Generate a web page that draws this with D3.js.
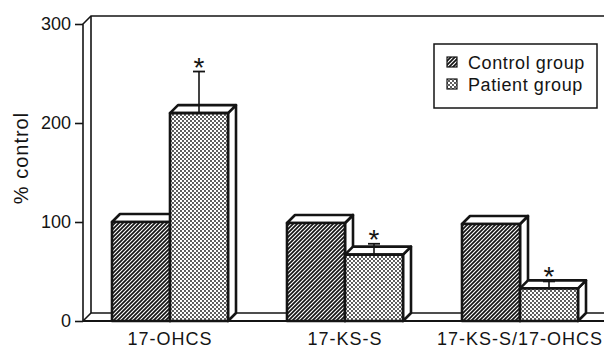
<!DOCTYPE html>
<html>
<head>
<meta charset="utf-8">
<script src="https://cdn.jsdelivr.net/npm/d3@7"></script>
<style>
  body { margin: 0; background: #fff; }
  svg { display: block; }
  text { font-family: "Liberation Sans", Arial, Helvetica, sans-serif; fill: #141414; }
</style>
</head>
<body>
<svg id="chart" width="604" height="351"></svg>
<script>
// Urinary steroid excretion, expressed as % of control
const categories = ["17-OHCS", "17-KS-S", "17-KS-S/17-OHCS"];
const seriesNames = ["Control group", "Patient group"];
const controlValues = [100, 99, 98];
const patientValues = [210, 67, 33];
const patientErrors = [42, 11, 7];
const significant = [true, true, true];
const yTicks = [0, 100, 200, 300];

const svg = d3.select("#chart");
const ink = "#141414";
const depth = 8;          // oblique offset of the 3-D faces
const axisX = 83;

const y = d3.scaleLinear().domain([0, 300]).range([321, 24]);
const x0 = d3.scalePoint().domain(categories).range([170, 520]);
const x1 = d3.scaleBand().domain(seriesNames).range([-58, 58]).padding(0);

// fill patterns: diagonal hatch for controls, stipple for patients
const defs = svg.append("defs");
const hatch = defs.append("pattern").attr("id", "hatch")
  .attr("patternUnits", "userSpaceOnUse").attr("width", 4).attr("height", 4);
hatch.append("rect").attr("width", 4).attr("height", 4).attr("fill", "#fff");
hatch.append("path").attr("d", "M-1,1 l2,-2 M0,4 l4,-4 M3,5 l2,-2")
  .attr("stroke", ink).attr("stroke-width", 1.7);

const dots = defs.append("pattern").attr("id", "dots")
  .attr("patternUnits", "userSpaceOnUse").attr("width", 4).attr("height", 4);
dots.append("rect").attr("width", 4).attr("height", 4).attr("fill", "#fff");
dots.append("circle").attr("cx", 1).attr("cy", 1).attr("r", 0.9).attr("fill", "#111");
dots.append("circle").attr("cx", 3).attr("cy", 3).attr("r", 0.9).attr("fill", "#111");

const fills = { "Control group": "url(#hatch)", "Patient group": "url(#dots)" };

// 3-D frame: side wall, back wall top and floor
const yTop = y(300), yZero = y(0);
const frame = svg.append("g").attr("fill", "none").attr("stroke", ink).attr("stroke-width", 1.6);
frame.append("path").attr("d",
  `M${axisX},${yZero} L${axisX},${yTop} L${axisX + depth},${yTop - depth} L604,${yTop - depth}`);
frame.append("path").attr("d",
  `M${axisX + depth},${yTop - depth} L${axisX + depth},${yZero - depth} L604,${yZero - depth}`);
frame.append("path").attr("d",
  `M${axisX},${yZero} L${axisX + depth},${yZero - depth}`);
frame.append("path").attr("d", `M${axisX},${yZero} L604,${yZero}`).attr("stroke-width", 2);

// y axis ticks and labels
const axis = svg.append("g").attr("transform", `translate(${axisX},0)`)
  .call(d3.axisLeft(y).tickValues(yTicks).tickSize(8).tickPadding(4).tickFormat(d3.format("d")));
axis.select(".domain").remove();
axis.selectAll(".tick line").attr("stroke", ink).attr("stroke-width", 1.6);
axis.selectAll(".tick text").attr("font-size", 18).attr("fill", ink)
  .style("font-family", '"Liberation Sans", Arial, sans-serif');

svg.append("text")
  .attr("transform", "translate(28,158) rotate(-90)")
  .attr("text-anchor", "middle").attr("font-size", 20).attr("letter-spacing", 1)
  .text("% control");

// bars
const rows = categories.map((c, i) => ({
  cat: c,
  bars: [
    { s: "Control group", v: controlValues[i] },
    { s: "Patient group", v: patientValues[i], e: patientErrors[i], sig: significant[i] }
  ]
}));

const groups = svg.selectAll("g.grp").data(rows).join("g").attr("class", "grp")
  .attr("transform", d => `translate(${x0(d.cat)},0)`);

groups.each(function (row) {
  const g = d3.select(this);
  row.bars.forEach(b => {
    const bx = x1(b.s), w = x1.bandwidth(), yt = y(b.v);
    const face = g.append("g").attr("stroke", ink).attr("stroke-width", 2.6)
      .attr("stroke-linejoin", "round");
    face.append("path").attr("fill", "#fff").attr("d",
      `M${bx + w},${yt} L${bx + w + depth},${yt - depth} L${bx + w + depth},${yZero - depth} L${bx + w},${yZero} Z`);
    face.append("path").attr("fill", "#fff").attr("d",
      `M${bx},${yt} L${bx + depth},${yt - depth} L${bx + w + depth},${yt - depth} L${bx + w},${yt} Z`);
    face.append("rect").attr("x", bx).attr("y", yt).attr("width", w).attr("height", yZero - yt)
      .attr("fill", fills[b.s]);

    if (b.e != null) {
      const cx = bx + w / 2, ye = y(b.v + b.e);
      g.append("line").attr("x1", cx).attr("x2", cx).attr("y1", yt).attr("y2", ye)
        .attr("stroke", ink).attr("stroke-width", 1.6);
      g.append("line").attr("x1", cx - 6).attr("x2", cx + 6).attr("y1", ye).attr("y2", ye)
        .attr("stroke", ink).attr("stroke-width", 1.8);
      if (b.sig) {
        g.append("text").attr("x", cx).attr("y", ye + 5).attr("text-anchor", "middle")
          .attr("font-size", 28).text("*");
      }
    }
  });
});

// category labels
svg.selectAll("text.cat").data(categories).join("text").attr("class", "cat")
  .attr("x", d => x0(d)).attr("y", 345).attr("text-anchor", "middle")
  .attr("font-size", 18).attr("letter-spacing", 1).text(d => d);

// legend
const legend = svg.append("g");
legend.append("rect").attr("x", 434).attr("y", 44).attr("width", 163).attr("height", 64)
  .attr("fill", "#fff").attr("stroke", ink).attr("stroke-width", 1.5);
seriesNames.forEach((s, i) => {
  legend.append("rect").attr("x", 447).attr("y", 57 + i * 22).attr("width", 10).attr("height", 10)
    .attr("fill", fills[s]).attr("stroke", ink).attr("stroke-width", 1.2);
  legend.append("text").attr("x", 468).attr("y", 69 + i * 22)
    .attr("font-size", 18).attr("letter-spacing", 0.6).text(s);
});
</script>
</body>
</html>
